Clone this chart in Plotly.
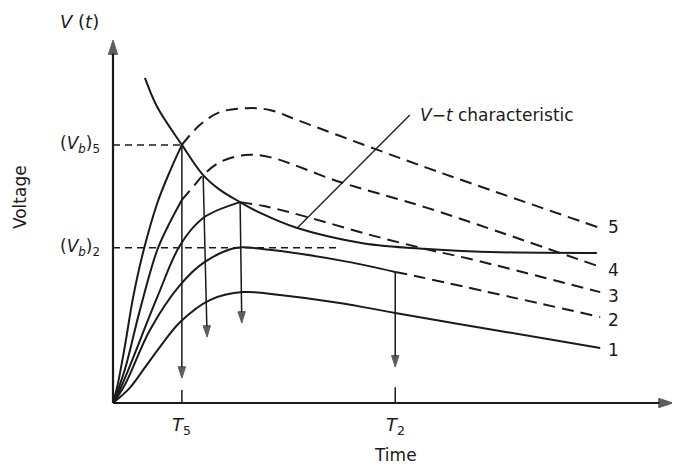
import plotly.graph_objects as go

# ---- data (arbitrary units: time t, voltage V) ----
c1_t = [0, 0.30, 0.54, 0.84, 1.20, 1.73, 2.32, 2.98, 4.05, 5.04, 6.91, 8.70]
c1_v = [0, 0.42, 0.92, 1.56, 2.25, 2.86, 3.08, 3.00, 2.78, 2.50, 2.00, 1.53]

c2_t = [0, 0.21, 0.66, 1.20, 1.64, 2.21, 2.70, 3.40, 4.20, 5.04]
c2_v = [0, 0.50, 2.03, 3.28, 3.92, 4.31, 4.27, 4.13, 3.92, 3.64]
c2d_t = [5.04, 5.48, 8.70]
c2d_v = [3.64, 3.50, 2.39]

c3_t = [0, 0.16, 0.79, 1.20, 1.61, 2.27]
c3_v = [0, 0.50, 2.94, 4.39, 5.14, 5.58]
c3d_t = [2.27, 2.70, 3.46, 4.59, 5.66, 6.38, 8.70]
c3d_v = [5.58, 5.47, 5.17, 4.67, 4.25, 4.00, 3.08]

c4_t = [0, 0.21, 0.48, 0.79, 1.02, 1.23]
c4_v = [0, 0.92, 2.58, 4.25, 5.03, 5.64]
c4d_t = [1.23, 1.46, 1.61, 1.91, 2.36, 2.80, 4.05, 5.61, 8.70]
c4d_v = [5.64, 6.06, 6.33, 6.69, 6.89, 6.83, 6.14, 5.42, 3.78]

c5_t = [0, 0.09, 0.21, 0.36, 0.54, 0.79, 1.02, 1.23]
c5_v = [0, 0.56, 1.56, 2.94, 4.20, 5.55, 6.45, 7.17]
c5d_t = [1.23, 1.55, 1.91, 2.39, 2.80, 3.29, 4.64, 5.61, 6.38, 8.70]
c5d_v = [7.17, 7.72, 8.08, 8.19, 8.14, 7.86, 7.08, 6.53, 6.11, 4.86]

vt_t = [0.57, 0.79, 1.23, 1.61, 1.91, 2.27, 2.63, 3.29, 4.46, 5.61, 6.91, 8.64]
vt_v = [9.03, 8.22, 7.17, 6.33, 5.92, 5.58, 5.28, 4.86, 4.44, 4.28, 4.19, 4.17]

curve_labels = ["5", "4", "3", "2", "1"]
curve_label_v = [4.89, 3.69, 2.97, 2.31, 1.47]
label_t = 8.80

Vb5, Vb2 = 7.17, 4.31
T5, T2 = 1.23, 5.04
Vb2_end = 4.0

# breakdown arrows: (t_tail, v_tail, t_tip, v_tip)
drops = [(T5, Vb5, T5, 0.69), (1.61, 6.33, 1.68, 1.83), (2.27, 5.58, 2.30, 2.22), (T2, 3.64, T2, 1.00)]
ticks = [(T5, 0.36), (T2, 0.44)]

leader = ([3.29, 5.30], [4.86, 8.0])
t_max, v_max = 10.0, 10.08

INK = "#1a1a1a"
FONT = "DejaVu Sans"

fig = go.Figure()

def line(t, v, width=2, dash=None, spline=True):
    fig.add_trace(go.Scatter(x=t, y=v, mode="lines",
                             line=dict(color=INK, width=width, dash=dash,
                                       shape="spline" if spline else "linear", smoothing=1.0),
                             hoverinfo="skip", showlegend=False))

def arrow(t0, v0, t1, v1, width, size):
    fig.add_trace(go.Scatter(x=[t0, t1], y=[v0, v1], mode="lines+markers",
                             line=dict(color=INK, width=width),
                             marker=dict(symbol="arrow", size=[0, size], angleref="previous",
                                         color=INK, line=dict(width=1, color=INK)),
                             hoverinfo="skip", showlegend=False))

for t, v in [(c1_t, c1_v), (c2_t, c2_v), (c3_t, c3_v), (c4_t, c4_v), (c5_t, c5_v), (vt_t, vt_v)]:
    line(t, v)
for t, v in [(c2d_t, c2d_v), (c3d_t, c3d_v), (c4d_t, c4d_v), (c5d_t, c5d_v)]:
    line(t, v, dash="12px,7px")

# horizontal breakdown-voltage guides
for vb, tend in [(Vb5, T5), (Vb2, Vb2_end)]:
    line([0, tend], [vb, vb], width=1.5, dash="7px,5px", spline=False)
# short ticks at T5, T2
for tt, vv in ticks:
    line([tt, tt], [0, vv], width=1.5, spline=False)
# leader line
line(leader[0], leader[1], width=1.3, spline=False)

# axes
arrow(0, 0, 0, v_max, 2.2, 15)
arrow(0, 0, t_max, 0, 2.2, 15)
# breakdown arrows
for ta, va, tb, vb_ in drops:
    arrow(ta, va, tb, vb_, 1.5, 12)

f = dict(family=FONT, size=17, color=INK)
ann = []
for lab, lv in zip(curve_labels, curve_label_v):
    ann.append(dict(x=label_t, y=lv, text=lab, showarrow=False, xanchor="left", yanchor="middle", font=f))

ann += [
    dict(x=-0.22, y=10.6, text="<i>V</i> (<i>t</i>)", showarrow=False, xanchor="right", yanchor="middle",
         font=dict(family=FONT, size=18, color=INK)),
    dict(x=-0.2, y=Vb5, text="(<i>V<sub>b</sub></i>)<sub>5</sub>", showarrow=False, xanchor="right", yanchor="middle", font=f),
    dict(x=-0.2, y=Vb2, text="(<i>V<sub>b</sub></i>)<sub>2</sub>", showarrow=False, xanchor="right", yanchor="middle", font=f),
    dict(x=-1.66, y=5.72, text="Voltage", textangle=-90, showarrow=False, xanchor="center", yanchor="middle", font=f),
    dict(x=T5, y=-0.63, text="<i>T</i><sub>5</sub>", showarrow=False, xanchor="center", yanchor="middle",
         font=dict(family=FONT, size=18, color=INK)),
    dict(x=T2, y=-0.63, text="<i>T</i><sub>2</sub>", showarrow=False, xanchor="center", yanchor="middle",
         font=dict(family=FONT, size=18, color=INK)),
    dict(x=T2, y=-1.44, text="Time", showarrow=False, xanchor="center", yanchor="middle", font=f),
    dict(x=9.97, y=-0.08, text="<i>t</i>", showarrow=False, xanchor="left", yanchor="middle",
         font=dict(family=FONT, size=16, color=INK)),
    dict(x=5.45, y=8.0, text="<i>V</i>\u2212<i>t</i> characteristic", showarrow=False, xanchor="left",
         yanchor="middle", font=f),
]

# page has an 8px body margin; ranges chosen so data map onto the reference's pixel grid
OFF = 8
fig.update_layout(
    width=680, height=470,
    margin=dict(l=0, r=0, t=0, b=0),
    paper_bgcolor="white", plot_bgcolor="white",
    xaxis=dict(range=[(OFF - 113) / 56, (680 + OFF - 113) / 56], visible=False, fixedrange=True),
    yaxis=dict(range=[(403 - 470 - OFF) / 36, (403 - OFF) / 36], visible=False, fixedrange=True),
    annotations=ann,
    showlegend=False,
)

fig.write_html("out.html")
